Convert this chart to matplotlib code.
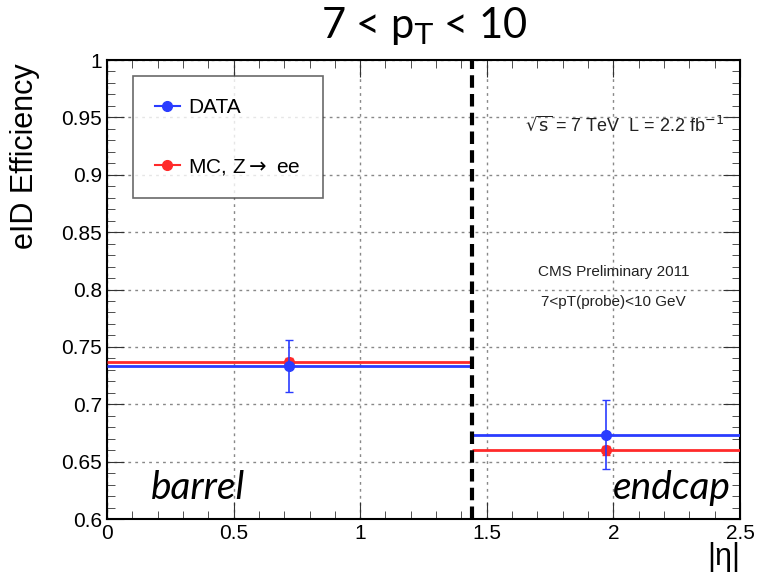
import matplotlib
matplotlib.use('Agg')
import matplotlib.pyplot as plt
from matplotlib.ticker import MultipleLocator, FormatStrFormatter
from matplotlib.lines import Line2D

# eta bins and efficiencies
bin_edges = [0.0, 1.442, 2.5]
bin_centers = [0.72, 1.97]
data_eff = [0.733, 0.673]
data_err_up = [0.023, 0.031]
data_err_down = [0.022, 0.029]
mc_eff = [0.737, 0.660]
mc_err = [0.003, 0.004]
region_labels = ['barrel', 'endcap']

plt.rcParams['font.family'] = ['Liberation Sans', 'DejaVu Sans']

fig = plt.figure(figsize=(7.57, 5.85), dpi=100)
ax = fig.add_axes([0.1413, 0.1128, 0.8362, 0.7846])

blue = '#2a3cff'
red = '#ff2a2a'

for i in range(len(bin_centers)):
    lo, hi = bin_edges[i], bin_edges[i + 1]
    ax.hlines(mc_eff[i], lo, hi, color=red, lw=2, zorder=3)
    ax.hlines(data_eff[i], lo, hi, color=blue, lw=2, zorder=4)
    ax.errorbar(bin_centers[i], mc_eff[i], yerr=mc_err[i], fmt='o', color=red,
                ms=7, capsize=3, elinewidth=1.2, zorder=5)
    ax.errorbar(bin_centers[i], data_eff[i],
                yerr=[[data_err_down[i]], [data_err_up[i]]], fmt='o', color=blue,
                ms=7, capsize=3, elinewidth=1.2, zorder=6)

# barrel / endcap boundary
ax.axvline(bin_edges[1], color='black', lw=3, ls=(0, (3, 1.5)), zorder=7)

ax.set_xlim(0, 2.5)
ax.set_ylim(0.6, 1.0)
ax.xaxis.set_major_locator(MultipleLocator(0.5))
ax.xaxis.set_minor_locator(MultipleLocator(0.1))
ax.yaxis.set_major_locator(MultipleLocator(0.05))
ax.yaxis.set_minor_locator(MultipleLocator(0.01))
ax.xaxis.set_major_formatter(FormatStrFormatter('%g'))
ax.yaxis.set_major_formatter(FormatStrFormatter('%g'))
ax.tick_params(which='both', direction='in', top=True, right=True, labelsize=15, color='#333333')
ax.tick_params(which='major', length=12)
ax.tick_params(which='minor', length=6)
ax.grid(True, which='major', ls=(0, (2, 3)), color='#888888', lw=1)
for s in ax.spines.values():
    s.set_linewidth(1.5)

ax.set_ylabel('eID Efficiency', fontsize=22, labelpad=8)
ax.yaxis.set_label_coords(-0.105, 0.79)
ax.text(1.0, -0.05, '|η|', transform=ax.transAxes, ha='right', va='top', fontsize=22)

fig.text(0.56, 0.955, r'7 < p$_\mathrm{T}$ < 10', ha='center', va='center', fontsize=30,
         family=['Lato', 'DejaVu Sans'])

ax.text(0.07, 0.068, region_labels[0], transform=ax.transAxes, fontsize=28, style='italic',
        family=['Lato', 'DejaVu Sans'], va='center')
ax.text(0.985, 0.068, region_labels[1], transform=ax.transAxes, fontsize=28, style='italic',
        family=['Lato', 'DejaVu Sans'], va='center', ha='right')

ax.text(0.975, 0.858, r'$\sqrt{\mathrm{s}}$ = 7 TeV  L = 2.2 fb$^{\mathrm{-1}}$', transform=ax.transAxes,
        ha='right', va='center', fontsize=13, color='#222222')
ax.text(0.80, 0.538, 'CMS Preliminary 2011', transform=ax.transAxes, ha='center',
        va='center', fontsize=11, color='#222222')
ax.text(0.80, 0.473, '7<pT(probe)<10 GeV', transform=ax.transAxes, ha='center',
        va='center', fontsize=11, color='#222222')

handles = [Line2D([], [], color=blue, marker='o', ms=7, lw=1.5),
           Line2D([], [], color=red, marker='o', ms=7, lw=1.5)]
leg = ax.legend(handles, ['DATA', r'MC, Z$\rightarrow$ ee'], loc='upper left',
                bbox_to_anchor=(0.041, 0.965), fontsize=15, frameon=True, fancybox=False,
                edgecolor='#444444', labelspacing=1.9, handlelength=1.2, borderpad=1.05,
                handletextpad=0.4, borderaxespad=0)
leg.get_frame().set_linewidth(1.2)
leg.set_zorder(10)

fig.savefig('out.png', dpi=100)
